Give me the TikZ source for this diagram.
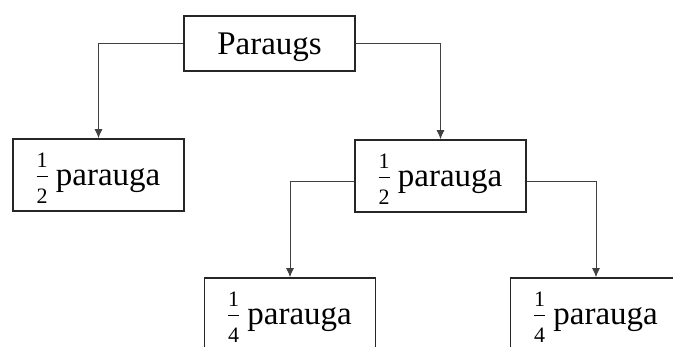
\documentclass[tikz,border=0pt]{standalone}
\usepackage{fontspec}
\setmainfont{Liberation Serif}
\usetikzlibrary{arrows.meta}
\newcommand{\myfr}[2]{\hbox{\fontsize{22}{22}\selectfont\rlap{\raisebox{18pt}{#1}}\rlap{\raisebox{-18pt}{#2}}\raisebox{8.5pt}{\rule{11pt}{1.3pt}}}}
\begin{document}
\begin{tikzpicture}[x=1pt,y=-1pt,
  box/.style={draw=black!85,line width=1.6pt,minimum width=171pt,inner sep=0pt,
    text height=30pt,text depth=8pt,
    font=\fontsize{33}{40}\selectfont},
  conn/.style={draw=black!75,line width=1pt,-{Latex[length=9pt,width=8pt]}}]
\useasboundingbox (0,0) rectangle (673,347);
\clip (0,0) rectangle (673,347);
\node[box,minimum height=55pt] (top) at (269.5,43.5) {Paraugs};
\node[box,minimum height=72pt] (left) at (98.5,175) {\myfr{1}{2} parauga};
\node[box,minimum height=72pt] (mid) at (440.5,176) {\myfr{1}{2} parauga};
\node[box,minimum height=72pt] (bl) at (290,314) {\myfr{1}{4} parauga};
\node[box,minimum height=72pt] (br) at (596,314) {\myfr{1}{4} parauga};
\draw[conn] (top.west) -| (left.north);
\draw[conn] (top.east) -| (mid.north);
\draw[conn] ([yshift=-6pt]mid.west) -| (bl.north);
\draw[conn] ([yshift=-6pt]mid.east) -| (br.north);
\end{tikzpicture}
\end{document}
